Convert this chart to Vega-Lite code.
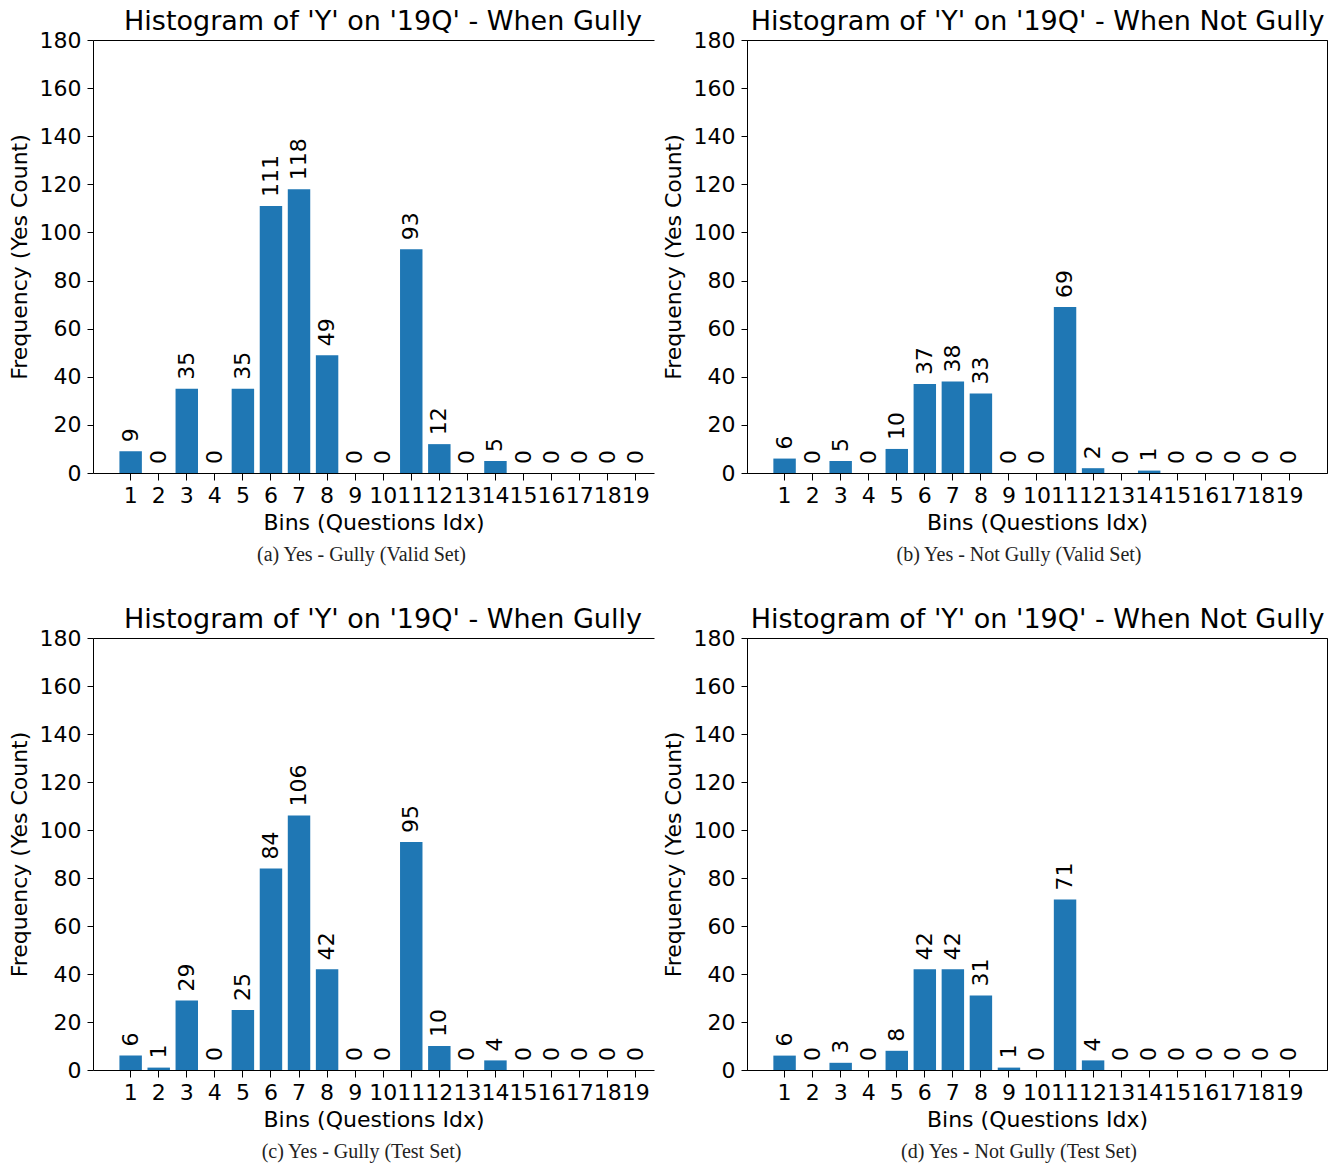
{
  "$schema": "https://vega.github.io/schema/vega-lite/v6.json",
  "background": "white",
  "padding": {"left": 8, "top": 6, "right": 6, "bottom": 4},
  "config": {
    "view": {"stroke": null},
    "font": "DejaVu Sans",
    "axis": {
      "grid": false,
      "domainColor": "black",
      "domainWidth": 1,
      "tickColor": "black",
      "tickSize": 6,
      "labelColor": "black",
      "labelFont": "DejaVu Sans",
      "labelFontSize": 22,
      "labelPadding": 6,
      "titleColor": "black",
      "titleFont": "DejaVu Sans",
      "titleFontSize": 22,
      "titleFontWeight": "normal"
    },
    "title": {"font": "Liberation Serif", "fontSize": 20, "fontWeight": "normal", "color": "#222", "anchor": "middle", "frame": "group", "orient": "bottom", "offset": 12},
    "concat": {"spacing": 7}
  },
  "datasets": {
    "a": [
      {"bin": 1, "count": 9}, {"bin": 2, "count": 0}, {"bin": 3, "count": 35}, {"bin": 4, "count": 0}, {"bin": 5, "count": 35},
      {"bin": 6, "count": 111}, {"bin": 7, "count": 118}, {"bin": 8, "count": 49}, {"bin": 9, "count": 0}, {"bin": 10, "count": 0},
      {"bin": 11, "count": 93}, {"bin": 12, "count": 12}, {"bin": 13, "count": 0}, {"bin": 14, "count": 5}, {"bin": 15, "count": 0},
      {"bin": 16, "count": 0}, {"bin": 17, "count": 0}, {"bin": 18, "count": 0}, {"bin": 19, "count": 0}
    ],
    "b": [
      {"bin": 1, "count": 6}, {"bin": 2, "count": 0}, {"bin": 3, "count": 5}, {"bin": 4, "count": 0}, {"bin": 5, "count": 10},
      {"bin": 6, "count": 37}, {"bin": 7, "count": 38}, {"bin": 8, "count": 33}, {"bin": 9, "count": 0}, {"bin": 10, "count": 0},
      {"bin": 11, "count": 69}, {"bin": 12, "count": 2}, {"bin": 13, "count": 0}, {"bin": 14, "count": 1}, {"bin": 15, "count": 0},
      {"bin": 16, "count": 0}, {"bin": 17, "count": 0}, {"bin": 18, "count": 0}, {"bin": 19, "count": 0}
    ],
    "c": [
      {"bin": 1, "count": 6}, {"bin": 2, "count": 1}, {"bin": 3, "count": 29}, {"bin": 4, "count": 0}, {"bin": 5, "count": 25},
      {"bin": 6, "count": 84}, {"bin": 7, "count": 106}, {"bin": 8, "count": 42}, {"bin": 9, "count": 0}, {"bin": 10, "count": 0},
      {"bin": 11, "count": 95}, {"bin": 12, "count": 10}, {"bin": 13, "count": 0}, {"bin": 14, "count": 4}, {"bin": 15, "count": 0},
      {"bin": 16, "count": 0}, {"bin": 17, "count": 0}, {"bin": 18, "count": 0}, {"bin": 19, "count": 0}
    ],
    "d": [
      {"bin": 1, "count": 6}, {"bin": 2, "count": 0}, {"bin": 3, "count": 3}, {"bin": 4, "count": 0}, {"bin": 5, "count": 8},
      {"bin": 6, "count": 42}, {"bin": 7, "count": 42}, {"bin": 8, "count": 31}, {"bin": 9, "count": 1}, {"bin": 10, "count": 0},
      {"bin": 11, "count": 71}, {"bin": 12, "count": 4}, {"bin": 13, "count": 0}, {"bin": 14, "count": 0}, {"bin": 15, "count": 0},
      {"bin": 16, "count": 0}, {"bin": 17, "count": 0}, {"bin": 18, "count": 0}, {"bin": 19, "count": 0}
    ]
  },
  "spacing": 38,
  "vconcat": [
    {
      "hconcat": [
        {
          "title": {"text": "(a) Yes - Gully (Valid Set)", "dx": -12},
          "width": 561, "height": 433,
          "data": {"name": "a"},
          "encoding": {
            "x": {"field": "bin", "type": "ordinal", "sort": null,
              "scale": {"paddingInner": 0.2, "paddingOuter": 0.596, "align": 0.79},
              "axis": {"title": "Bins (Questions Idx)", "labelAngle": 0, "labelOverlap": false, "labelBound": false, "tickSize": 7, "labelPadding": 5, "titlePadding": 6}},
            "y": {"field": "count", "type": "quantitative",
              "scale": {"domain": [0, 180], "nice": false},
              "axis": {"title": "Frequency (Yes Count)", "values": [0, 20, 40, 60, 80, 100, 120, 140, 160, 180], "titlePadding": 8}}
          },
          "layer": [
            {"mark": {"type": "bar", "color": "#1f77b4"}},
            {"mark": {"type": "text", "angle": 270, "align": "left", "baseline": "middle", "dx": 9, "fontSize": 22, "color": "black"},
              "encoding": {
                "text": {"field": "count", "type": "quantitative"},
                "x": {"field": "bin", "type": "ordinal", "sort": null,
                  "axis": {"orient": "top", "title": "Histogram of 'Y' on '19Q' - When Gully", "titleFontSize": 27, "titlePadding": 5, "titleX": 289.5, "labels": false, "ticks": false}}
              }}
          ],
          "resolve": {"axis": {"x": "independent"}}
        },
        {
          "title": {"text": "(b) Yes - Not Gully (Valid Set)", "dx": -18},
          "width": 580, "height": 433,
          "view": {"stroke": "black", "strokeWidth": 1},
          "data": {"name": "b"},
          "encoding": {
            "x": {"field": "bin", "type": "ordinal", "sort": null,
              "scale": {"paddingInner": 0.2, "paddingOuter": 0.94, "align": 0.5},
              "axis": {"title": "Bins (Questions Idx)", "labelAngle": 0, "labelOverlap": false, "labelBound": false, "tickSize": 7, "labelPadding": 5, "titlePadding": 6}},
            "y": {"field": "count", "type": "quantitative",
              "scale": {"domain": [0, 180], "nice": false},
              "axis": {"title": "Frequency (Yes Count)", "values": [0, 20, 40, 60, 80, 100, 120, 140, 160, 180], "titlePadding": 8}}
          },
          "layer": [
            {"mark": {"type": "bar", "color": "#1f77b4"}},
            {"mark": {"type": "text", "angle": 270, "align": "left", "baseline": "middle", "dx": 9, "fontSize": 22, "color": "black"},
              "encoding": {
                "text": {"field": "count", "type": "quantitative"},
                "x": {"field": "bin", "type": "ordinal", "sort": null,
                  "axis": {"orient": "top", "title": "Histogram of 'Y' on '19Q' - When Not Gully", "titleFontSize": 27, "titlePadding": 5, "labels": false, "ticks": false}}
              }}
          ],
          "resolve": {"axis": {"x": "independent"}}
        }
      ]
    },
    {
      "hconcat": [
        {
          "title": {"text": "(c) Yes - Gully (Test Set)", "dx": -12},
          "width": 561, "height": 432,
          "data": {"name": "c"},
          "encoding": {
            "x": {"field": "bin", "type": "ordinal", "sort": null,
              "scale": {"paddingInner": 0.2, "paddingOuter": 0.596, "align": 0.79},
              "axis": {"title": "Bins (Questions Idx)", "labelAngle": 0, "labelOverlap": false, "labelBound": false, "tickSize": 7, "labelPadding": 5, "titlePadding": 6}},
            "y": {"field": "count", "type": "quantitative",
              "scale": {"domain": [0, 180], "nice": false},
              "axis": {"title": "Frequency (Yes Count)", "values": [0, 20, 40, 60, 80, 100, 120, 140, 160, 180], "titlePadding": 8}}
          },
          "layer": [
            {"mark": {"type": "bar", "color": "#1f77b4"}},
            {"mark": {"type": "text", "angle": 270, "align": "left", "baseline": "middle", "dx": 9, "fontSize": 22, "color": "black"},
              "encoding": {
                "text": {"field": "count", "type": "quantitative"},
                "x": {"field": "bin", "type": "ordinal", "sort": null,
                  "axis": {"orient": "top", "title": "Histogram of 'Y' on '19Q' - When Gully", "titleFontSize": 27, "titlePadding": 5, "titleX": 289.5, "labels": false, "ticks": false}}
              }}
          ],
          "resolve": {"axis": {"x": "independent"}}
        },
        {
          "title": {"text": "(d) Yes - Not Gully (Test Set)", "dx": -18},
          "width": 580, "height": 432,
          "view": {"stroke": "black", "strokeWidth": 1},
          "data": {"name": "d"},
          "encoding": {
            "x": {"field": "bin", "type": "ordinal", "sort": null,
              "scale": {"paddingInner": 0.2, "paddingOuter": 0.94, "align": 0.5},
              "axis": {"title": "Bins (Questions Idx)", "labelAngle": 0, "labelOverlap": false, "labelBound": false, "tickSize": 7, "labelPadding": 5, "titlePadding": 6}},
            "y": {"field": "count", "type": "quantitative",
              "scale": {"domain": [0, 180], "nice": false},
              "axis": {"title": "Frequency (Yes Count)", "values": [0, 20, 40, 60, 80, 100, 120, 140, 160, 180], "titlePadding": 8}}
          },
          "layer": [
            {"mark": {"type": "bar", "color": "#1f77b4"}},
            {"mark": {"type": "text", "angle": 270, "align": "left", "baseline": "middle", "dx": 9, "fontSize": 22, "color": "black"},
              "encoding": {
                "text": {"field": "count", "type": "quantitative"},
                "x": {"field": "bin", "type": "ordinal", "sort": null,
                  "axis": {"orient": "top", "title": "Histogram of 'Y' on '19Q' - When Not Gully", "titleFontSize": 27, "titlePadding": 5, "labels": false, "ticks": false}}
              }}
          ],
          "resolve": {"axis": {"x": "independent"}}
        }
      ]
    }
  ]
}
